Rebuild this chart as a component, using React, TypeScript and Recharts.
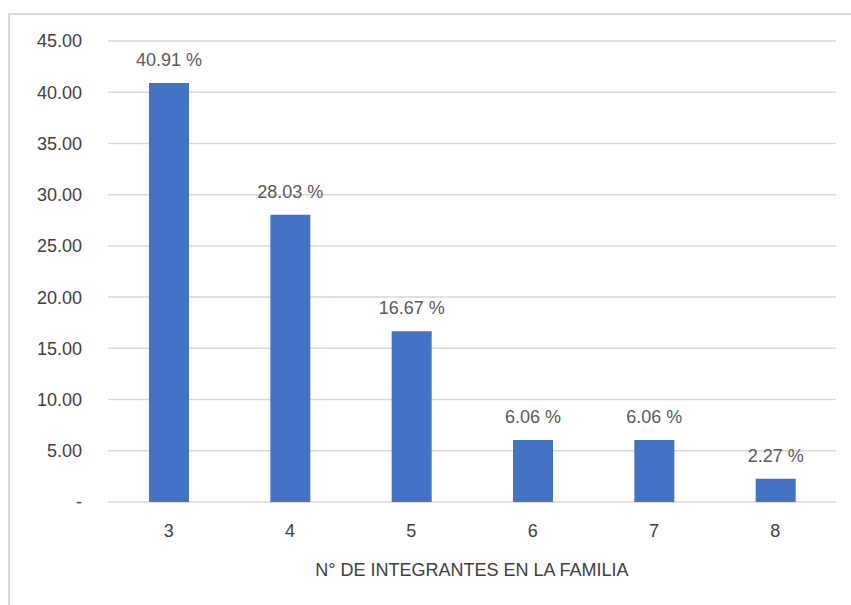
import { BarChart, Bar, XAxis, YAxis, CartesianGrid, LabelList } from "recharts";

const categories = ["3", "4", "5", "6", "7", "8"];
const percentages = [40.91, 28.03, 16.67, 6.06, 6.06, 2.27];
const yTicks = [0, 5, 10, 15, 20, 25, 30, 35, 40, 45];

const data = categories.map((c, i) => ({ name: c, value: percentages[i] }));

const FONT = "'Liberation Sans', Arial, sans-serif";
const TEXT = "#595959";
const AXIS_TEXT = "#404040";

const renderValueLabel = (props: any) => {
  const { x, y, width, value } = props;
  return (
    <text
      x={Number(x) + Number(width) / 2}
      y={Number(y) - 17}
      textAnchor="middle"
      fill={TEXT}
      fontSize={18}
      fontFamily={FONT}
    >
      {`${Number(value).toFixed(2)} %`}
    </text>
  );
};

export default function App() {
  return (
    <div style={{ position: "absolute", left: 0, top: 0, width: 851, height: 605, background: "#fff", overflow: "hidden" }}>
      <div
        style={{
          position: "absolute",
          left: 8,
          top: 13,
          width: 900,
          height: 700,
          borderTop: "2px solid #d9d9d9",
          borderLeft: "2px solid #d9d9d9",
        }}
      />
      <BarChart
        width={851}
        height={605}
        data={data}
        margin={{ top: 41, right: 15, left: 48, bottom: 73 }}
        style={{ position: "absolute", left: 0, top: 0, fontFamily: FONT }}
      >
        <CartesianGrid vertical={false} stroke="#d9d9d9" strokeWidth={1.5} />
        <XAxis
          dataKey="name"
          axisLine={false}
          tickLine={false}
          tickSize={0}
          tickMargin={22}
          tick={{ fill: AXIS_TEXT, fontSize: 18, fontFamily: FONT }}
          label={{
            value: "N° DE INTEGRANTES EN LA FAMILIA",
            position: "insideBottom",
            offset: -44,
            fill: AXIS_TEXT,
            fontSize: 18,
            fontFamily: FONT,
          }}
        />
        <YAxis
          width={60}
          domain={[0, 45]}
          ticks={yTicks}
          interval={0}
          axisLine={false}
          tickLine={false}
          tickSize={0}
          tickMargin={26}
          tick={{ fill: AXIS_TEXT, fontSize: 18, fontFamily: FONT }}
          tickFormatter={(v: number) => (v === 0 ? "-" : v.toFixed(2))}
        />
        <Bar dataKey="value" fill="#4472C4" barSize={40} isAnimationActive={false}>
          <LabelList dataKey="value" content={renderValueLabel} />
        </Bar>
      </BarChart>
    </div>
  );
}
